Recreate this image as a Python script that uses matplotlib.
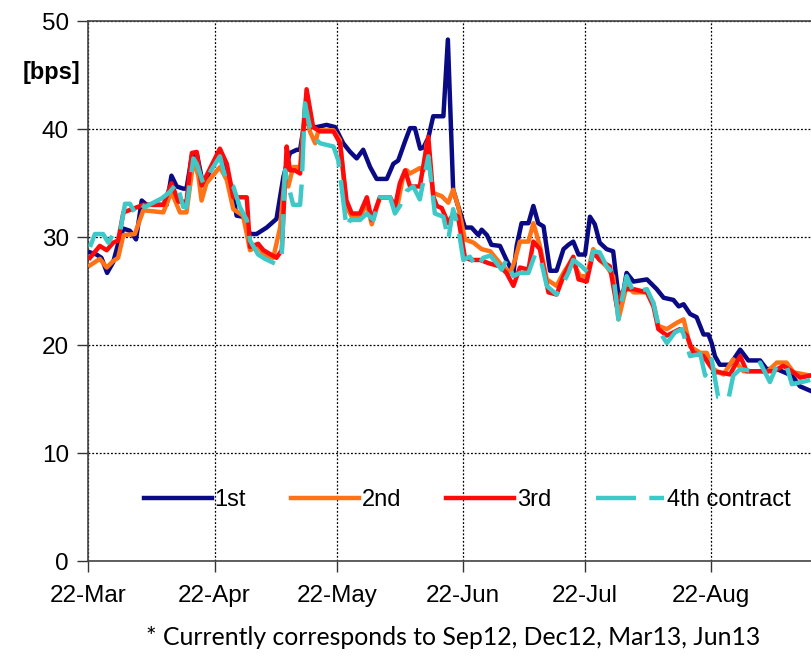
#!/usr/bin/env python
"""Futures basis by contract, Mar-Sep, in bps."""

import numpy as np
import pandas as pd
import matplotlib
matplotlib.use("Agg")
import matplotlib.pyplot as plt
import matplotlib.dates as mdates

# ── data (days after 22-Mar, value in bps) ──────────────────────────────────
START = "2012-03-22"

days_1st = [0.4, 2.0, 3.2, 4.6, 6.1, 7.3, 8.6, 10.2, 11.7, 13.1, 14.3, 19.2, 20.4, 21.7,
            23.3, 24.1, 25.4, 26.6, 28.2, 32.3, 34.0, 35.6, 36.4, 38.0, 39.7, 41.3, 43.8,
            46.2, 47.9, 49.5, 51.2, 52.0, 53.2, 54.4, 56.1, 58.5, 60.6, 62.6, 64.3, 65.9,
            67.5, 69.2, 70.8, 73.3, 74.9, 76.1, 77.8, 79.0, 80.2, 81.5, 82.3, 83.5, 84.7,
            86.8, 87.2, 88.3, 89.6, 90.8, 92.5, 94.1, 95.8, 96.6, 97.9, 99.0, 101.1, 102.7,
            104.4, 105.2, 106.4, 108.1, 109.3, 110.5, 111.8, 113.4, 115.0, 116.7, 117.9,
            119.1, 120.4, 122.0, 123.2, 124.4, 125.6, 127.3, 128.9, 130.2, 131.4, 132.2,
            133.9, 137.2, 139.6, 141.3, 143.7, 145.0, 146.2, 147.8, 149.4, 151.1, 152.3,
            153.1, 153.9, 155.1, 157.6, 160.1, 162.1, 165.0, 166.6, 169.1, 172.8, 174.8, 177.3]
vals_1st = [28.6, 28.4, 28.1, 26.7, 27.7, 29.4, 30.8, 30.6, 29.8, 33.4, 33.0, 33.0, 35.7, 34.7,
            34.5, 34.5, 37.5, 37.8, 34.8, 38.1, 36.2, 33.7, 32.0, 31.9, 30.3, 30.3, 30.9,
            31.7, 35.6, 37.8, 38.1, 38.1, 41.0, 40.2, 40.2, 40.4, 40.2, 38.7, 37.9, 37.3,
            38.1, 36.5, 35.4, 35.4, 36.8, 37.1, 38.9, 40.1, 40.1, 38.2, 38.3, 39.2, 41.2,
            41.2, 41.2, 48.3, 34.4, 32.9, 30.9, 30.9, 30.2, 30.7, 30.2, 29.3, 29.2, 27.9,
            26.7, 29.2, 31.3, 31.3, 32.9, 31.3, 31.0, 26.9, 26.9, 28.9, 29.3,
            29.6, 28.4, 28.4, 31.9, 31.2, 29.5, 28.9, 28.7, 24.6, 24.9, 26.7,
            25.9, 26.1, 25.2, 24.4, 24.2, 23.6, 23.8, 22.9, 22.6, 21.0, 21.0,
            20.2, 19.0, 18.2, 18.2, 19.6, 18.6, 18.6, 17.8, 17.8, 17.2, 16.2, 15.8]

days_2nd = [0.4, 2.8, 4.5, 6.1, 7.3, 8.6, 11.4, 13.5, 18.4, 20.4, 22.5, 24.1, 25.8, 27.0,
            27.8, 29.0, 32.3, 34.0, 35.6, 38.0, 39.7, 41.7, 43.0, 45.4, 47.1, 48.3, 49.1,
            50.3, 52.0, 53.2, 54.4, 55.7, 56.5, 60.2, 61.8, 63.4, 64.7, 66.7, 68.4, 69.6,
            71.6, 74.1, 75.7, 77.3, 78.2, 79.0, 81.4, 82.3, 83.1, 84.7, 86.8, 88.4, 89.6,
            90.8, 92.5, 94.6, 96.6, 98.7, 101.1, 103.6, 104.8, 106.0, 108.1, 109.3, 110.9,
            112.6, 115.0, 116.7, 118.7, 120.8, 122.4, 124.0, 125.6, 127.3, 128.9, 130.2,
            132.2, 133.9, 137.2, 138.8, 140.0, 142.1, 144.6, 146.2, 147.8, 150.3, 151.9,
            153.5, 156.0, 158.4, 160.9, 165.0, 166.6, 169.1, 171.5, 173.2, 177.3]
vals_2nd = [27.4, 28.0, 27.2, 27.8, 28.1, 30.2, 30.3, 32.5, 32.3, 34.2, 32.3, 32.3, 37.1, 35.7,
            33.4, 35.0, 36.5, 35.3, 32.6, 32.0, 28.8, 29.2, 28.4, 28.1, 30.9, 35.9, 34.7,
            36.5, 36.5, 42.1, 39.8, 38.7, 39.9, 39.9, 39.0, 32.8, 31.9, 31.9, 33.1, 31.2,
            33.7, 33.7, 32.5, 35.6, 36.2, 35.9, 36.4, 36.2, 38.7, 34.1, 33.8, 33.2, 34.4,
            32.9, 29.8, 29.5, 28.9, 28.7, 27.6, 26.7, 27.9, 29.6, 29.6, 31.3, 29.2,
            26.1, 25.5, 26.7, 27.9, 26.4, 26.4, 28.9, 27.9, 27.3, 26.4, 22.4,
            25.5, 24.9, 24.9, 23.9, 21.8, 21.5, 22.1, 22.4, 19.9, 19.3, 19.3,
            17.8, 17.3, 18.7, 17.6, 17.6, 17.5, 18.4, 18.4, 17.5, 17.2]

days_3rd = [0.4, 2.8, 4.5, 6.1, 7.3, 8.6, 13.5, 18.4, 20.4, 22.1, 24.1, 25.4, 26.6, 27.8,
            32.3, 34.0, 35.6, 38.9, 39.7, 41.7, 43.0, 46.2, 47.5, 48.7, 49.5, 50.7, 52.0,
            53.6, 55.2, 56.9, 60.2, 61.8, 63.4, 64.7, 66.7, 68.4, 69.6, 71.6, 74.1, 75.3,
            76.5, 77.8, 79.0, 81.4, 83.5, 84.7, 85.6, 86.8, 88.4, 89.6, 90.8, 92.5, 94.1,
            96.2, 98.3, 101.1, 102.7, 104.4, 106.0, 108.1, 109.3, 110.9, 113.0, 115.0,
            116.7, 119.1, 120.4, 122.4, 124.0, 125.6, 128.1, 129.8, 131.0, 132.2, 133.9,
            137.2, 138.8, 140.0, 142.1, 145.3, 147.0, 148.6, 151.1, 152.7, 153.9, 155.1,
            157.6, 160.1, 161.7, 165.0, 168.3, 170.7, 173.2, 174.8, 177.3]
vals_3rd = [28.1, 29.2, 28.8, 29.5, 29.7, 32.3, 33.0, 33.0, 35.0, 33.3, 33.3, 37.8, 37.9, 34.8,
            38.2, 36.8, 33.7, 33.7, 29.1, 29.4, 28.8, 28.1, 28.8, 38.4, 36.2, 36.2, 35.9,
            43.7, 40.2, 39.8, 39.8, 38.7, 33.4, 32.2, 32.2, 33.7, 31.6, 33.7, 33.7, 32.8,
            35.0, 36.2, 34.7, 34.7, 39.3, 33.8, 32.9, 32.7, 31.3, 32.2, 31.9, 28.1, 27.9,
            27.9, 27.6, 27.3, 26.7, 25.5, 27.2, 27.0, 29.6, 28.9, 24.9, 24.7,
            26.4, 28.2, 26.1, 25.9, 28.6, 27.9, 27.3, 23.6, 24.9, 25.2, 25.2,
            24.9, 23.6, 21.5, 20.9, 21.5, 20.9, 19.3, 19.0, 18.1, 17.5, 17.5,
            17.3, 19.0, 17.6, 17.6, 17.6, 18.1, 17.5, 17.0, 17.2]

days_4th = [0.4, 1.6, 3.6, 4.9, 6.1, 7.7, 9.0, 10.2, 11.4, 12.7, 13.9, 18.0, 20.0, 21.7,
            23.3, 24.1, 25.8, 26.6, 28.2, 32.3, 34.0, 35.6, 37.2, 38.9, 39.7, 41.7, 43.4,
            46.2, 47.5, 48.3, 49.1, 50.3, 52.0, 52.4, 53.2, 54.4, 56.1, 56.9, 60.2, 61.4,
            62.6, 63.4, 64.3, 66.7, 68.4, 70.0, 71.6, 74.1, 75.3, 76.5, 78.2, 79.8, 81.4,
            83.5, 85.1, 87.2, 88.4, 89.6, 90.8, 92.1, 93.7, 95.4, 97.0, 98.7, 100.3, 101.5,
            102.7, 104.4, 106.0, 108.1, 109.7, 110.9, 112.6, 115.0, 116.7, 117.9, 119.1,
            121.2, 122.8, 124.0, 125.6, 127.3, 128.9, 130.2, 131.4, 132.2, 133.9, 137.2,
            138.8, 140.4, 142.1, 144.1, 145.8, 147.8, 150.3, 151.5, 153.1, 154.7, 157.2,
            158.4, 160.1, 163.4, 165.0, 167.4, 169.1, 171.5, 172.8, 176.4, 177.3]
vals_4th = [29.1, 30.3, 30.3, 29.5, 30.3, 30.3, 33.1, 33.1, 32.3, 33.1, 32.8, 33.6, 34.2, 35.0,
            32.8, 32.8, 37.3, 36.8, 35.0, 37.5, 35.0, 34.7, 32.8, 31.6, 29.7, 28.4, 28.0,
            27.5, 28.4, 36.2, 34.8, 33.0, 33.0, 35.0, 42.4, 40.2, 39.0, 38.7, 38.4, 37.1,
            33.4, 30.9, 31.6, 31.6, 32.2, 31.6, 33.7, 33.7, 32.2, 32.9, 34.3, 34.7, 33.5,
            37.5, 32.2, 31.9, 29.8, 32.6, 31.0, 27.9, 28.2, 27.2, 28.1, 28.3, 27.6, 27.0,
            27.9, 26.4, 26.7, 26.7, 28.4, 28.3, 25.5, 24.7, 25.8, 26.7, 27.9,
            27.3, 26.7, 28.7, 28.6, 27.3, 26.7, 22.4, 24.9, 26.4, 24.9, 25.2,
            23.9, 21.2, 20.2, 21.2, 21.5, 19.0, 19.2, 17.2, 18.7, 15.2, 15.0,
            17.2, 17.8, 17.6, 18.4, 16.6, 18.1, 18.1, 16.4, 16.7, 16.8]

labels   = ["1st", "2nd", "3rd", "4th contract"]
x_end    = 177.5       # right edge of the visible plot, days after START
tick_days = ["2012-03-22", "2012-04-22", "2012-05-22", "2012-06-22", "2012-07-22", "2012-08-22"]
footnote = "* Currently corresponds to Sep12, Dec12, Mar13, Jun13"

# ── styles ──────────────────────────────────────────────────────────────────
COLOURS = ["#0a0a85", "#ff7215", "#ff0a0a", "#3ec8c8"]
STYLES  = ["-", "-", "-", (0, (9, 3))]

plt.rcParams["font.family"] = ["Liberation Sans", "DejaVu Sans"]


def to_dates(days):
    return pd.Timestamp(START) + pd.to_timedelta(np.asarray(days), unit="D")


def main():
    fig = plt.figure(figsize=(8.11, 6.62), dpi=100)
    ax = fig.add_axes([0.109, 0.152, 0.891, 0.816])

    series = [(days_1st, vals_1st), (days_2nd, vals_2nd),
              (days_3rd, vals_3rd), (days_4th, vals_4th)]
    for (d, v), lab, col, ls in zip(series, labels, COLOURS, STYLES):
        ax.plot(to_dates(d), v, color=col, lw=3.2, ls=ls, label=lab,
                solid_joinstyle="round", zorder=3)

    ax.set_xlim(to_dates([0.0])[0], to_dates([x_end])[0])
    ax.set_ylim(0, 50)
    ax.set_yticks([0, 10, 20, 30, 40, 50])
    ax.set_xticks(pd.to_datetime(tick_days))
    ax.xaxis.set_major_formatter(mdates.DateFormatter("%d-%b"))

    ax.grid(True, color="black", ls=(0, (1.5, 1.5)), lw=0.9, zorder=1)
    ax.tick_params(axis="both", labelsize=17.5, length=8, width=1, color="#333333",
                   direction="out")
    ax.tick_params(axis="x", pad=9)
    ax.tick_params(axis="y", pad=6)
    for side in ["left", "bottom", "top"]:
        ax.spines[side].set_color("#444444")
        ax.spines[side].set_linewidth(1.2)
    ax.spines["right"].set_visible(False)

    ax.legend(loc="center", bbox_to_anchor=(0.524, 0.113), ncol=4, frameon=False,
              fontsize=17, handlelength=2.9, handletextpad=0.1, columnspacing=1.9)

    fig.text(0.063, 0.891, "[bps]", fontsize=17, fontweight="bold",
             ha="center", va="center")
    fig.text(0.559, 0.037, footnote, fontsize=17.8, family=["Lato", "DejaVu Sans"],
             ha="center", va="center")

    fig.savefig("out.png", dpi=100)
    plt.close(fig)


if __name__ == "__main__":
    main()
